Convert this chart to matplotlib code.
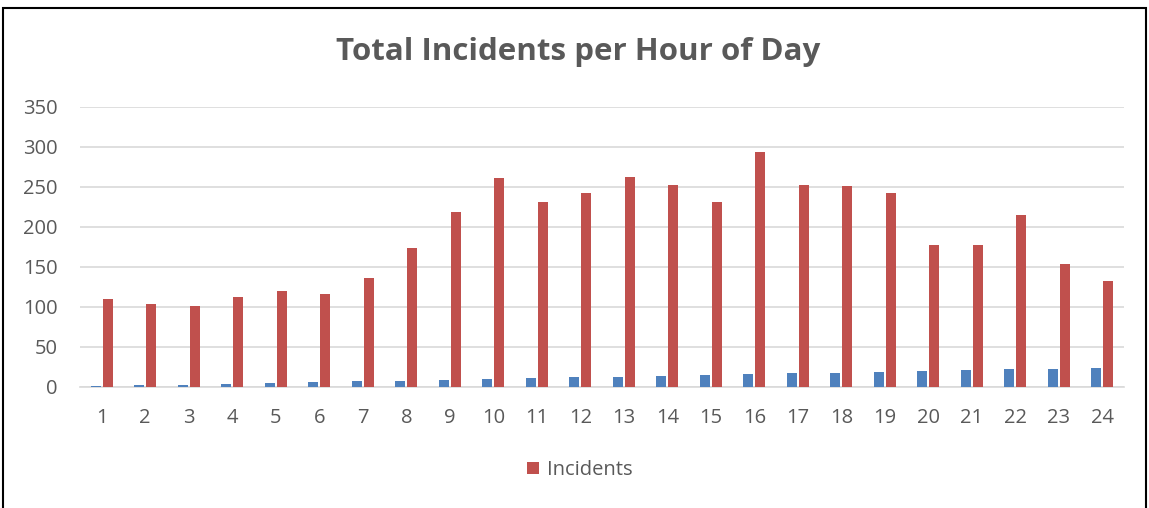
import matplotlib.pyplot as plt
import numpy as np
from matplotlib.patches import Rectangle

hours = list(range(1, 25))
hour_series = [1, 2, 3, 4, 5, 6, 7, 8, 9, 10, 11, 12, 13, 14, 15, 16, 17, 18,
               19, 20, 21, 22, 23, 24]
incidents = [110, 104, 101, 112, 120, 116, 136, 174, 219, 261, 231, 242, 262,
             253, 231, 294, 252, 251, 243, 177, 178, 215, 154, 132]

plt.rcParams["font.family"] = ["Open Sans", "DejaVu Sans"]
TXT = "#595959"

fig = plt.figure(figsize=(11.49, 5.08), dpi=100)
ax = fig.add_axes([80 / 1149, 1 - 387 / 508, (1124 - 80) / 1149, 280 / 508])

x = np.arange(len(hours))
w = 0.23
ax.bar(x - w / 2 - 0.025, hour_series, width=w, color="#4F81BD", zorder=3)
ax.bar(x + w / 2 + 0.025, incidents, width=w, color="#C0504D", zorder=3,
       label="Incidents")

ax.set_xlim(-0.5, len(hours) - 0.5)
ax.set_ylim(0, 350)
ax.set_yticks(range(0, 351, 50))
ax.set_xticks(x)
ax.set_xticklabels([str(h) for h in hours])
ax.tick_params(axis="both", length=0, labelsize=14.5, labelcolor=TXT)
ax.tick_params(axis="x", pad=15)
ax.tick_params(axis="y", pad=16)
ax.grid(axis="y", color="#D9D9D9", linewidth=1.2, zorder=0)
for s in ["top", "right", "left"]:
    ax.spines[s].set_visible(False)
ax.spines["bottom"].set_color("#D9D9D9")
ax.spines["bottom"].set_linewidth(1.2)

fig.text(578 / 1149, 1 - 52 / 508, "Total Incidents per Hour of Day",
         ha="center", va="center", fontsize=22.5, fontweight="bold", color=TXT)

fig.legend(loc="center", bbox_to_anchor=(580 / 1149, 1 - 470 / 508),
           frameon=False, fontsize=14.5, labelcolor=TXT, handlelength=0.6,
           handleheight=0.6, handletextpad=0.4)

fig.patches.append(Rectangle((3 / 1149, -0.05), 1143 / 1149, 1.05 - 8 / 508,
                             transform=fig.transFigure, fill=False,
                             edgecolor="black", linewidth=1.5))

fig.savefig("out.png", dpi=100)
